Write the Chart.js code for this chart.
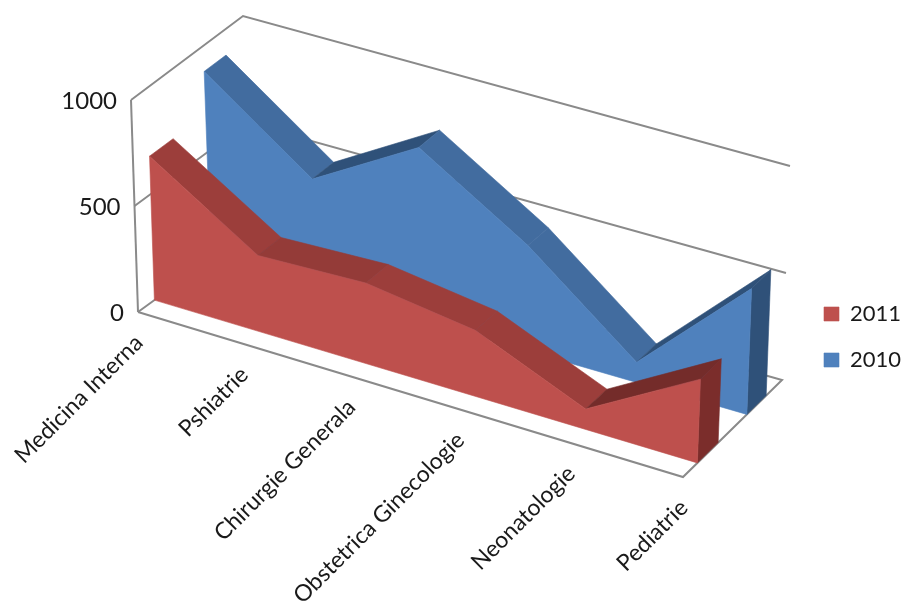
<!DOCTYPE html>
<html>
<head>
<meta charset="utf-8">
<script src="https://cdn.jsdelivr.net/npm/chart.js@4/dist/chart.umd.min.js"></script>
<style>
    html, body { margin: 0; padding: 0; background: #ffffff; }
    canvas { display: block; }
</style>
</head>
<body>
<canvas id="areaChart" width="902" height="604"></canvas>
<script>
const categories = ['Medicina Interna', 'Pshiatrie', 'Chirurgie Generala', 'Obstetrica Ginecologie', 'Neonatologie', 'Pediatrie'];
const values2011 = [678, 358, 378, 308, 95, 390];
const values2010 = [880, 516, 806, 492, 94, 587];
const valueTicks = [0, 500, 1000];

const redColors = { front: '#BE504D', side: '#7B2D2B', top: ['#9C3E3B', '#943B38', '#9C3E3B', '#9C3E3B', '#742C2A'] };
const blueColors = { front: '#4F81BD', side: '#2F5179', top: ['#426C9F', '#2F5179', '#426C9F', '#426C9F', '#2F5179'] };
const frameColor = '#8A8A8A';
const fontName = 'Lato, "Open Sans", sans-serif';

// corners of the 3D box as seen on the page: floor and top, front and back
const floorCorners = { fl: [138, 312], fr: [683, 477], br: [782, 380], bl: [251, 230] };
const topCorners = { fl: [131, 100], fr: [691, 262], br: [790, 166], bl: [243, 16] };
const maxValue = 1000;
const perspective = 0.042;

function project(t, value, depth) {
    const v = value / maxValue;
    // categories bunch up slightly towards the left, the way the 3D view does
    const s = t / (1 + perspective * (1 - t));
    const pick = (c, axis) => {
        const front = c.fl[axis] + (c.fr[axis] - c.fl[axis]) * s;
        const back = c.bl[axis] + (c.br[axis] - c.bl[axis]) * s;
        return front + (back - front) * depth;
    };
    const low = [pick(floorCorners, 0), pick(floorCorners, 1)];
    const high = [pick(topCorners, 0), pick(topCorners, 1)];
    return { x: low[0] + (high[0] - low[0]) * v, y: low[1] + (high[1] - low[1]) * v };
}

function lineSet(points) {
    return {
        data: points, borderColor: frameColor, borderWidth: 2, pointRadius: 0,
        showLine: true, fill: false, tension: 0
    };
}

function faceSet(points, color, label) {
    return {
        label: label, data: points.concat([points[0]]), backgroundColor: color, borderColor: color,
        borderWidth: 0.6, pointRadius: 0, showLine: true, fill: 'shape', tension: 0
    };
}

// one area series is a slab between two depths: top faces, right side, then the front
function slabSets(values, d1, d2, colors, label) {
    const last = values.length - 1;
    const sets = [];
    for (let i = 0; i < last; i++) {
        const t1 = i / last, t2 = (i + 1) / last;
        sets.push(faceSet([project(t1, values[i], d1), project(t2, values[i + 1], d1),
            project(t2, values[i + 1], d2), project(t1, values[i], d2)], colors.top[i]));
    }
    sets.push(faceSet([project(1, values[last], d1), project(1, values[last], d2),
        project(1, 0, d2), project(1, 0, d1)], colors.side));
    const front = values.map((v, i) => project(i / last, v, d1));
    front.push(project(1, 0, d1), project(0, 0, d1));
    sets.push(faceSet(front, colors.front, label));
    return sets;
}

function frameSets() {
    const sets = [];
    sets.push(lineSet([project(0, 0, 0), project(1, 0, 0), project(1, 0, 1), project(0, 0, 1), project(0, 0, 0)]));
    sets.push(lineSet([project(0, 0, 0), project(0, maxValue, 0)]));
    valueTicks.slice(1).forEach(v => {
        sets.push(lineSet([project(0, v, 0), project(0, v, 1), project(1, v, 1)]));
    });
    return sets;
}

// back to front, then reversed because the first dataset is painted last
const datasets = frameSets()
    .concat(slabSets(values2010, 0.645, 0.84, blueColors, '2010'))
    .concat(slabSets(values2011, 0.145, 0.355, redColors, '2011'))
    .reverse();

const axisText = {
    id: 'axisText',
    afterLayout(chart) {
        const legend = chart.legend;
        legend.left = 800;
        legend.right = 902;
        legend.top = 279;
        legend.bottom = 395;
    },
    afterDraw(chart) {
        const ctx = chart.ctx;
        const xs = chart.scales.x, ys = chart.scales.y;
        ctx.save();
        ctx.fillStyle = '#1a1a1a';
        ctx.textBaseline = 'middle';
        ctx.textAlign = 'right';
        ctx.font = '24px ' + fontName;
        valueTicks.forEach(v => {
            const p = project(0, v, 0);
            ctx.fillText(String(v), xs.getPixelForValue(p.x) - 14, ys.getPixelForValue(p.y) + 1);
        });
        ctx.font = '23px ' + fontName;
        const last = categories.length - 1;
        categories.forEach((name, i) => {
            const p = project(i / last, 0, 0);
            ctx.save();
            ctx.translate(xs.getPixelForValue(p.x) + 1, ys.getPixelForValue(p.y) + 27);
            ctx.rotate(-Math.PI / 4);
            ctx.fillText(name, 0, 0);
            ctx.restore();
        });
        ctx.restore();
    }
};

new Chart(document.getElementById('areaChart').getContext('2d'), {
    type: 'line',
    data: { datasets: datasets },
    plugins: [axisText],
    options: {
        responsive: false,
        animation: false,
        events: [],
        layout: { padding: 0 },
        scales: {
            x: { type: 'linear', display: false, min: 0, max: 902 },
            y: { type: 'linear', display: false, min: 0, max: 604, reverse: true }
        },
        plugins: {
            tooltip: { enabled: false },
            legend: {
                position: 'chartArea',
                align: 'start',
                labels: {
                    boxWidth: 15, boxHeight: 14, padding: 24,
                    color: '#1a1a1a', font: { family: fontName, size: 22 },
                    filter: item => !!item.text
                }
            }
        }
    }
});
</script>
</body>
</html>
